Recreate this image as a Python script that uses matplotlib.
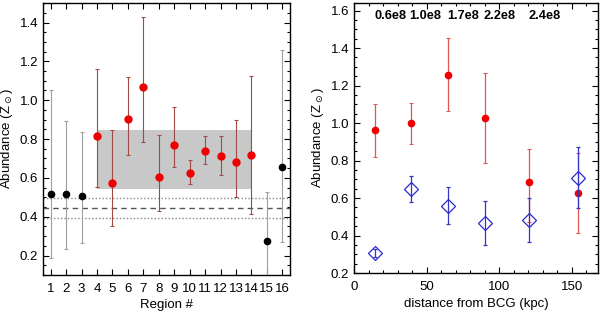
import numpy as np
import matplotlib

matplotlib.use("Agg")

import matplotlib.pyplot as plt
from matplotlib.ticker import MultipleLocator

# left panel: abundance per region
regions_black = [1, 2, 3, 15, 16]
abund_black = [0.515, 0.515, 0.508, 0.277, 0.656]
up_black = [1.055, 0.892, 0.836, 0.528, 1.26]
lo_black = [0.186, 0.236, 0.267, 0.05, 0.272]

regions_red = [4, 5, 6, 7, 8, 9, 10, 11, 12, 13, 14]
abund_red = [0.814, 0.573, 0.903, 1.067, 0.605, 0.768, 0.627, 0.74, 0.713, 0.682, 0.716]
up_red = [1.16, 0.846, 1.121, 1.43, 0.82, 0.966, 0.694, 0.817, 0.817, 0.899, 1.125]
lo_red = [0.554, 0.354, 0.718, 0.785, 0.427, 0.655, 0.571, 0.673, 0.617, 0.504, 0.412]

band_regions = [4, 14]
band_abund = [0.544, 0.846]
mean_line = 0.445
mean_err = 0.05

# right panel: abundance vs distance
dist_red = [14.5, 39, 64.5, 90, 120.5, 154.5]
abund_r = [0.963, 0.998, 1.258, 1.028, 0.687, 0.628]
up_r = [1.104, 1.108, 1.453, 1.267, 0.862, 0.84]
lo_r = [0.818, 0.887, 1.062, 0.789, 0.47, 0.412]

dist_blue = [14.5, 39, 64.5, 90, 120.5, 154.5]
abund_b = [0.308, 0.646, 0.558, 0.466, 0.482, 0.707]
up_b = [0.33, 0.717, 0.657, 0.584, 0.598, 0.873]
lo_b = [0.285, 0.577, 0.463, 0.349, 0.365, 0.546]

mass_x = [25, 49, 75, 100, 131]
mass_labels = ["0.6e8", "1.0e8", "1.7e8", "2.2e8", "2.4e8"]


def errs(v, up, lo):
    v = np.array(v)
    return [v - np.array(lo), np.array(up) - v]


plt.rcParams["font.size"] = 9.5
plt.rcParams["xtick.labelsize"] = 9.5
plt.rcParams["ytick.labelsize"] = 9.5
plt.rcParams["font.family"] = ["Liberation Sans", "DejaVu Sans"]
plt.rcParams["mathtext.fontset"] = "dejavusans"

fig = plt.figure(figsize=(6, 3.11), dpi=100)
ax1 = fig.add_axes([0.0717, 0.1158, 0.4116, 0.8742])
ax2 = fig.add_axes([0.59, 0.122, 0.4067, 0.868])

# left panel
ax1.fill_between(band_regions, band_abund[0], band_abund[1], color="#c8c8c8", lw=0, zorder=1)
ax1.axhline(mean_line, color="#555555", ls=(0, (4, 3)), lw=1, zorder=2)
ax1.axhline(mean_line + mean_err, color="#888888", ls=(0, (1, 1.5)), lw=1, zorder=2)
ax1.axhline(mean_line - mean_err, color="#888888", ls=(0, (1, 1.5)), lw=1, zorder=2)
ax1.errorbar(regions_black, abund_black, yerr=errs(abund_black, up_black, lo_black),
             fmt="o", color="black", ms=4.5, ecolor="#a0a0a0", elinewidth=0.8,
             capsize=1.5, capthick=0.8, zorder=3)
ax1.errorbar(regions_red, abund_red, yerr=errs(abund_red, up_red, lo_red),
             fmt="o", color="#ee0000", ms=5, ecolor="#a04a45", elinewidth=0.8,
             capsize=1.5, capthick=0.8, zorder=3)
ax1.set_xlim(0.5, 16.5)
ax1.set_ylim(0.1, 1.5)
ax1.set_xticks(range(1, 17))
ax1.yaxis.set_major_locator(MultipleLocator(0.2))
ax1.yaxis.set_minor_locator(MultipleLocator(0.05))
ax1.set_xlabel("Region #", labelpad=3)
ax1.set_ylabel(r"Abundance (Z$_\odot$)", labelpad=3)

# right panel
ax2.errorbar(dist_red, abund_r, yerr=errs(abund_r, up_r, lo_r),
             fmt="o", color="#ee0000", ms=4.5, ecolor="#e05555", elinewidth=0.9,
             capsize=1.5, capthick=0.8, zorder=3)
ax2.errorbar(dist_blue, abund_b, yerr=errs(abund_b, up_b, lo_b),
             fmt="D", mfc="none", mec="#2a2ad0", ms=7, mew=0.9, ecolor="#3535c0",
             elinewidth=0.9, capsize=1.5, capthick=0.8, zorder=4)
for x, t in zip(mass_x, mass_labels):
    ax2.text(x, 1.57, t, ha="center", va="center", fontweight="bold", fontsize=9.2)
ax2.set_xlim(0, 168)
ax2.set_ylim(0.2, 1.64)
ax2.xaxis.set_major_locator(MultipleLocator(50))
ax2.xaxis.set_minor_locator(MultipleLocator(10))
ax2.yaxis.set_major_locator(MultipleLocator(0.2))
ax2.yaxis.set_minor_locator(MultipleLocator(0.05))
ax2.set_xlabel("distance from BCG (kpc)", labelpad=3)
ax2.set_ylabel(r"Abundance (Z$_\odot$)", labelpad=3)

for ax in (ax1, ax2):
    ax.tick_params(which="both", direction="in", top=True, right=True, width=0.8)
    ax.tick_params(which="major", length=4)
    ax.tick_params(which="minor", length=2)
    ax.tick_params(axis="x", which="major", pad=6)
    for s in ax.spines.values():
        s.set_linewidth(1)

fig.savefig("out.png", dpi=100)
